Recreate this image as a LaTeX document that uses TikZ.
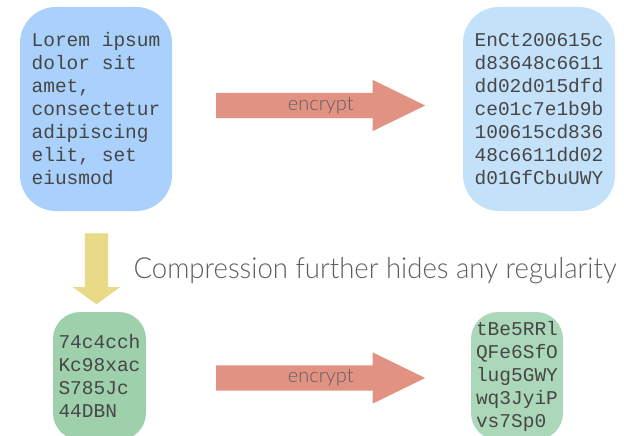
\documentclass[tikz,border=0pt]{standalone}
\usepackage{fontspec}
\setmonofont{Liberation Mono}
\newfontfamily\lightsans{Lato Light}
\newfontfamily\lightsansnarrow{Lato Light}[FakeStretch=0.95]
\usetikzlibrary{shapes.arrows,calc}
\definecolor{plainblue}{RGB}{169,209,251}
\definecolor{cipherblue}{RGB}{196,225,250}
\definecolor{zipgreen}{RGB}{158,208,172}
\definecolor{ziplgreen}{RGB}{172,216,186}
\definecolor{encred}{RGB}{226,146,130}
\definecolor{zipyellow}{RGB}{233,218,135}
\definecolor{monogray}{RGB}{70,70,70}
\definecolor{labelgray}{RGB}{95,95,95}
\begin{document}
\begin{tikzpicture}[x=1pt,y=-1pt,
  txtbox/.style={rounded corners=36pt, align=left, inner sep=0pt, text=monogray,
    font=\ttfamily\fontsize{19.5}{23}\selectfont},
  encarrow/.style={single arrow, fill=encred, minimum height=209pt, anchor=tail,
    single arrow head extend=13pt, single arrow tip angle=52, inner sep=12.5pt},
  enclabel/.style={text=labelgray, font=\lightsans\fontsize{20}{20}\selectfont}]
\useasboundingbox (0,0) rectangle (624,436);
%testo in chiaro e cifrato
\node[txtbox, fill=plainblue, minimum width=152pt, minimum height=204pt] (plain) at (96,109)
  {Lorem ipsum\\dolor sit\\amet,\\consectetur\\adipiscing\\elit, set\\eiusmod};
\node[txtbox, fill=cipherblue, minimum width=152pt, minimum height=204pt] (cipher) at (539,109)
  {EnCt200615c\\d83648c6611\\dd02d015dfd\\ce01c7e1b9b\\100615cd836\\48c6611dd02\\d01GfCbuUWY};
\node[encarrow] (enctop) at (216,105.5) {};
\node[enclabel] (enctoplabel) at ($(enctop.tail)!0.5!(enctop.tip)$) {encrypt};
%compressione
\node[single arrow, fill=zipyellow, rotate=-90, minimum height=71pt, inner sep=11.5pt,
  single arrow head extend=12pt, single arrow tip angle=108] (zip) at (96.5,264.5) {};
\node[anchor=base west, text=labelgray, font=\lightsansnarrow\fontsize{29}{29}\selectfont] (note)
  at (130,278) {Compression further hides any regularity};
%testo compresso e cifrato
\node[txtbox, rounded corners=27pt, fill=zipgreen, minimum width=93pt, minimum height=128pt] (packed) at (99.5,376)
  {74c4cch\\Kc98xac\\S785Jc\\44DBN};
\node[txtbox, rounded corners=27pt, fill=ziplgreen, minimum width=92pt, minimum height=128pt] (packedcipher) at (517,376)
  {tBe5RRl\\QFe6SfO\\lug5GWY\\wq3JyiP\\vs7Sp0};
\node[encarrow] (encbottom) at (216,378) {};
\node[enclabel] (encbottomlabel) at ($(encbottom.tail)!0.5!(encbottom.tip)$) {encrypt};
\end{tikzpicture}
\end{document}
